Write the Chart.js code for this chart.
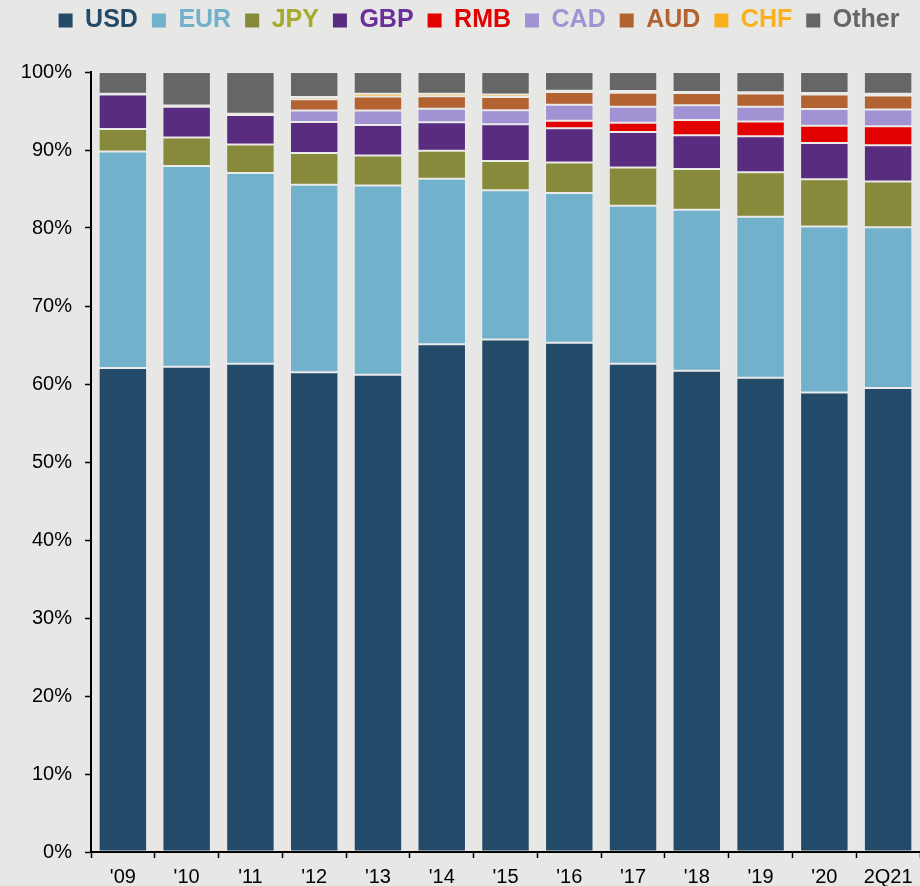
<!DOCTYPE html>
<html>
<head>
<meta charset="utf-8">
<script src="https://cdn.jsdelivr.net/npm/chart.js@4"></script>
<style>
  html, body { margin: 0; padding: 0; background: #e7e7e5; }
  #wrap { width: 920px; height: 886px; }
</style>
</head>
<body>
<div id="wrap"><canvas id="shareChart" width="920" height="886"></canvas></div>
<script>
// ==================== DATA ====================
const years = ["'09", "'10", "'11", "'12", "'13", "'14", "'15", "'16", "'17", "'18", "'19", "'20", "2Q21"];

const usd   = [62.05, 62.2, 62.6, 61.5, 61.2, 65.1, 65.7, 65.3, 62.6, 61.7, 60.8, 58.9, 59.5];
const eur   = [27.75, 25.75, 24.45, 24.05, 24.25, 21.2, 19.15, 19.2, 20.25, 20.65, 20.65, 21.3, 20.6];
const jpy   = [2.9, 3.65, 3.65, 4.05, 3.85, 3.6, 3.75, 3.9, 4.9, 5.2, 5.7, 6.05, 5.85];
const gbp   = [4.4, 3.95, 3.8, 4.0, 3.9, 3.65, 4.7, 4.4, 4.55, 4.35, 4.6, 4.65, 4.65];
const rmb   = [0, 0, 0, 0, 0, 0, 0, 0.95, 1.2, 1.95, 1.9, 2.2, 2.45];
const cad   = [0, 0, 0, 1.45, 1.85, 1.75, 1.8, 2.05, 2.05, 1.9, 1.9, 2.15, 2.15];
const aud   = [0, 0, 0, 1.45, 1.8, 1.6, 1.7, 1.65, 1.8, 1.55, 1.7, 1.85, 1.8];
const chf   = [0.1, 0.15, 0.15, 0.3, 0.35, 0.3, 0.3, 0.15, 0.2, 0.15, 0.15, 0.2, 0.2];
const other = [2.8, 4.3, 5.35, 3.2, 2.8, 2.8, 2.9, 2.4, 2.45, 2.55, 2.6, 2.7, 2.8];

const yTicks = [0, 10, 20, 30, 40, 50, 60, 70, 80, 90, 100];

// ==================== STYLE ====================
const FONT = "'Liberation Sans', Arial, sans-serif";

const series = [
    { label: 'USD',   data: usd,   color: '#244a69' },
    { label: 'EUR',   data: eur,   color: '#72b1cc' },
    { label: 'JPY',   data: jpy,   color: '#878a3a' },
    { label: 'GBP',   data: gbp,   color: '#592c80' },
    { label: 'RMB',   data: rmb,   color: '#e20000' },
    { label: 'CAD',   data: cad,   color: '#a193d3' },
    { label: 'AUD',   data: aud,   color: '#b36232' },
    { label: 'CHF',   data: chf,   color: '#fbb11d' },
    { label: 'Other', data: other, color: '#666666' }
];

const legendColors = {
    USD: '#244a69', EUR: '#72b1cc', JPY: '#a5ab2c', GBP: '#6a2f9a', RMB: '#e20000',
    CAD: '#a193d3', AUD: '#b36232', CHF: '#fbb11d', Other: '#666666'
};

// fixed legend height so the plot top sits at 100%, legend nudged right a bit
const legendTweak = {
    id: 'legendTweak',
    beforeInit(chart) {
        const fit = chart.legend.fit;
        chart.legend.fit = function() {
            fit.bind(chart.legend)();
            this.height = 78;
        };
    },
    afterLayout(chart) {
        chart.legend.left += 38;
    }
};

const ctx = document.getElementById('shareChart').getContext('2d');

new Chart(ctx, {
    type: 'bar',
    data: {
        labels: years,
        datasets: series.map(s => ({
            label: s.label,
            data: s.data,
            backgroundColor: s.color,
            borderColor: 'rgba(255,255,255,0.18)',
            borderWidth: 1,
            borderSkipped: false,
            barPercentage: 0.76,
            categoryPercentage: 1
        }))
    },
    options: {
        responsive: false,
        animation: false,
        layout: { padding: { left: 0, top: -6, right: 0, bottom: 0 } },
        plugins: {
            tooltip: { enabled: false },
            legend: {
                position: 'top',
                labels: {
                    boxWidth: 14,
                    boxHeight: 14,
                    padding: 14,
                    font: { family: FONT, size: 25, weight: 'bold' },
                    generateLabels(chart) {
                        return chart.data.datasets.map((ds, i) => ({
                            text: ds.label,
                            fillStyle: ds.backgroundColor,
                            strokeStyle: ds.backgroundColor,
                            fontColor: legendColors[ds.label],
                            lineWidth: 0,
                            hidden: false,
                            datasetIndex: i
                        }));
                    }
                }
            }
        },
        scales: {
            x: {
                stacked: true,
                offset: true,
                afterFit(scale) { scale.height = 34; },
                grid: {
                    drawOnChartArea: false,
                    drawTicks: true,
                    tickLength: 6,
                    tickWidth: 1.5,
                    tickColor: '#000'
                },
                border: { color: '#000', width: 2 },
                ticks: {
                    color: '#000',
                    padding: 7,
                    maxRotation: 0,
                    font: { family: FONT, size: 20 }
                }
            },
            y: {
                stacked: true,
                min: 0,
                max: 100,
                afterFit(scale) { scale.width = 91; },
                afterBuildTicks(scale) { scale.ticks = yTicks.map(v => ({ value: v })); },
                grid: {
                    drawOnChartArea: false,
                    drawTicks: true,
                    tickLength: 6,
                    tickWidth: 1.5,
                    tickColor: '#000'
                },
                border: { color: '#000', width: 2 },
                ticks: {
                    color: '#000',
                    padding: 13,
                    font: { family: FONT, size: 20 },
                    callback: v => v + '%'
                }
            }
        }
    },
    plugins: [legendTweak]
});
</script>
</body>
</html>
